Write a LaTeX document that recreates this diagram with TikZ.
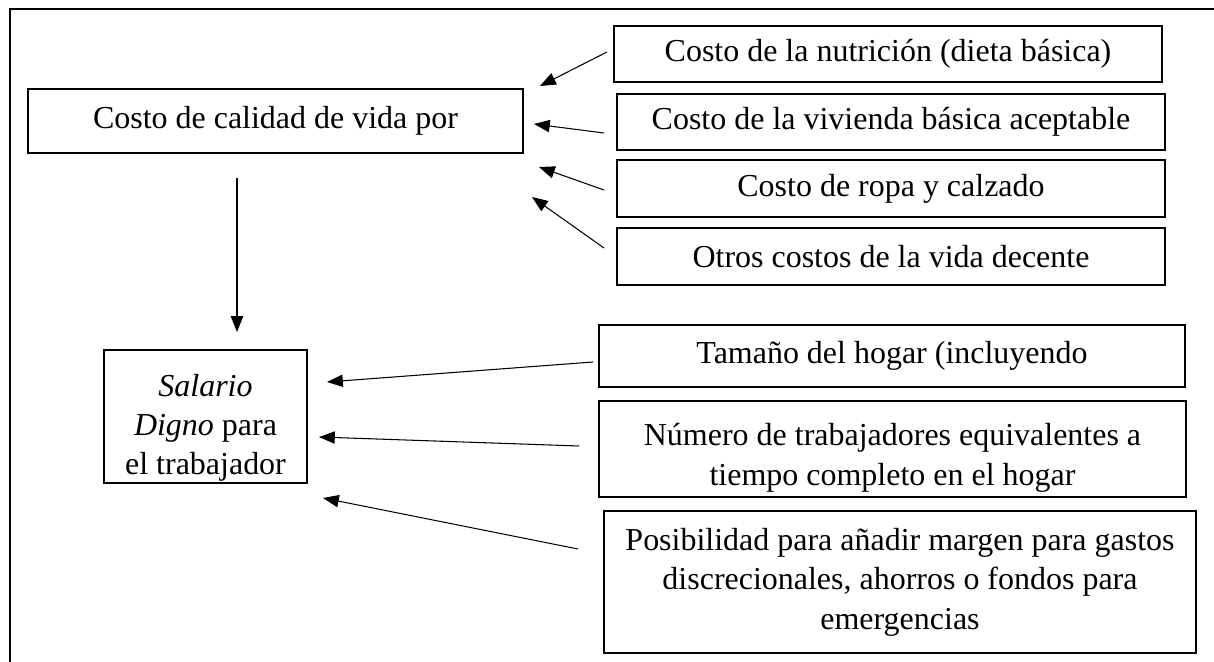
\documentclass[tikz,border=0pt]{standalone}
\usepackage{fontspec}
\setmainfont{Liberation Serif}
\usetikzlibrary{arrows.meta}
\begin{document}
\begin{tikzpicture}[x=0.02cm,y=-0.02cm,
  txt/.style={inner sep=0pt, align=center, font=\fontsize{18.2}{22.4}\selectfont},
  box/.style={txt, draw, line width=1.1pt},
  arr/.style={line width=0.6pt, -{Triangle[length=9pt,width=7pt]}},
  frame/.style={line width=1.5pt}]
\useasboundingbox (0,0) rectangle (1214,662);
\coordinate (ftr) at (1214,9);
\coordinate (ftl) at (10,9);
\coordinate (fbl) at (10,662);
\draw[frame] (ftr) -- (ftl) -- (fbl);

\node[box, minimum width=9.9cm, minimum height=1.28cm] (main) at (275.5,121) {Costo de calidad de vida por};
\node[box, minimum width=10.96cm, minimum height=1.12cm] (b1) at (888,54) {Costo de la nutrición (dieta básica)};
\node[box, minimum width=10.96cm, minimum height=1.12cm] (b2) at (891,122) {Costo de la vivienda básica aceptable};
\node[box, minimum width=10.96cm, minimum height=1.14cm] (b3) at (891,188.5) {Costo de ropa y calzado};
\node[box, minimum width=10.96cm, minimum height=1.14cm] (b4) at (891,256.5) {Otros costos de la vida decente};
\node[box, minimum width=11.72cm, minimum height=1.24cm] (b5) at (892,356) {Tamaño del hogar (incluyendo};
\node[box, minimum width=11.74cm, minimum height=1.92cm] (b6) at (892.5,449) {};
\node[txt, text depth=0pt] (b6t) at ([yshift=-3pt]b6.center) {Número de trabajadores equivalentes a\\tiempo completo en el hogar};
\node[box, minimum width=11.84cm, minimum height=2.84cm] (b7) at (900,582) {Posibilidad para añadir margen para gastos\\discrecionales, ahorros o fondos para\\emergencias};
\node[box, minimum width=4.06cm, minimum height=2.66cm] (sal) at (205.5,416.5) {};
\node[txt, text depth=0pt] (salt) at ([yshift=-4.5pt]sal.center) {\textit{Salario}\\\textit{Digno} para\\el trabajador};

\coordinate (s1) at (607,52);  \coordinate (t1) at (540,86);
\coordinate (s2) at (604,133); \coordinate (t2) at (534,124);
\coordinate (s3) at (604,190); \coordinate (t3) at (539,167);
\coordinate (s4) at (604,248); \coordinate (t4) at (532,197);
\coordinate (sv) at (237,178); \coordinate (tv) at (237,332);
\coordinate (s5) at (593,362); \coordinate (t5) at (327,382);
\coordinate (s6) at (579,446); \coordinate (t6) at (319,437);
\coordinate (s7) at (578,549); \coordinate (t7) at (323,498);

\draw[arr] (s1) -- (t1);
\draw[arr] (s2) -- (t2);
\draw[arr] (s3) -- (t3);
\draw[arr] (s4) -- (t4);
\draw[arr] (sv) -- (tv);
\draw[arr] (s5) -- (t5);
\draw[arr] (s6) -- (t6);
\draw[arr] (s7) -- (t7);
\end{tikzpicture}
\end{document}
